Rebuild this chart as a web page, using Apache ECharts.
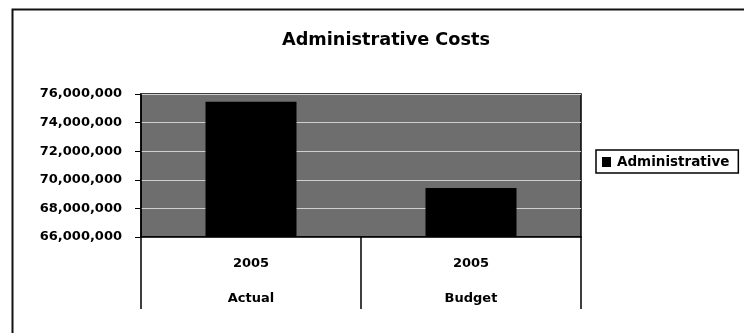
<!DOCTYPE html>
<html>
<head>
<meta charset="utf-8">
<script src="https://cdn.jsdelivr.net/npm/echarts@6/dist/echarts.min.js"></script>
<style>html,body{margin:0;padding:0;background:#fff}#c{width:744px;height:333px}</style>
</head>
<body>
<div id="c"></div>
<script>
var years = ['2005', '2005'];
var kinds = ['Actual', 'Budget'];
var administrative = [75450000, 69420000];
var seriesName = 'Administrative';
var titleText = 'Administrative Costs';

var F = 'DejaVu Sans';
var chart = echarts.init(document.getElementById('c'), null, {renderer: 'canvas'});
var cats = years.map(function (y, i) { return y + '\n' + kinds[i]; });
chart.setOption({
  animation: false,
  backgroundColor: '#fff',
  title: {
    text: titleText, left: 381, top: 26, textAlign: 'center',
    textStyle: {fontFamily: F, fontWeight: 'bold', fontSize: 17.7, color: '#000'}
  },
  graphic: [{
    type: 'rect', left: 10, top: 7, shape: {width: 760, height: 360},
    style: {fill: 'none', stroke: '#111', lineWidth: 2}, silent: true
  }],
  legend: {
    left: 596, top: 150, orient: 'vertical',
    data: [seriesName],
    borderColor: '#000', borderWidth: 1.5, padding: [5, 9, 4, 6],
    itemWidth: 9, itemHeight: 10, itemGap: 0,
    icon: 'rect',
    textStyle: {fontFamily: F, fontWeight: 'bold', fontSize: 13.5, color: '#000', padding: [0, 0, 0, 1]}
  },
  grid: {
    left: 141, top: 94, width: 440, height: 143,
    show: true, backgroundColor: '#6e6e6e', borderColor: '#000', borderWidth: 1.5
  },
  xAxis: {
    type: 'category', data: cats,
    axisLine: {lineStyle: {color: '#000', width: 1.5}},
    axisTick: {show: true, interval: 0, length: 72, lineStyle: {color: '#000', width: 1.5}},
    axisLabel: {interval: 0, margin: 9, lineHeight: 35, fontFamily: F, fontWeight: 'bold', fontSize: 13, color: '#000'}
  },
  yAxis: {
    type: 'value', min: 66000000, max: 76000000, interval: 2000000,
    axisLine: {show: true, lineStyle: {color: '#000', width: 1.5}},
    axisTick: {show: true, length: 6, lineStyle: {color: '#000'}},
    splitLine: {show: true, lineStyle: {color: '#cfcfcf', width: 1}},
    axisLabel: {
      margin: 19, fontFamily: F, fontWeight: 'bold', fontSize: 13, color: '#000',
      formatter: function (v) { return v.toLocaleString('en-US'); }
    }
  },
  series: [{
    name: seriesName, type: 'bar', data: administrative, barWidth: 91,
    itemStyle: {color: '#000'}
  }]
});
</script>
</body>
</html>
